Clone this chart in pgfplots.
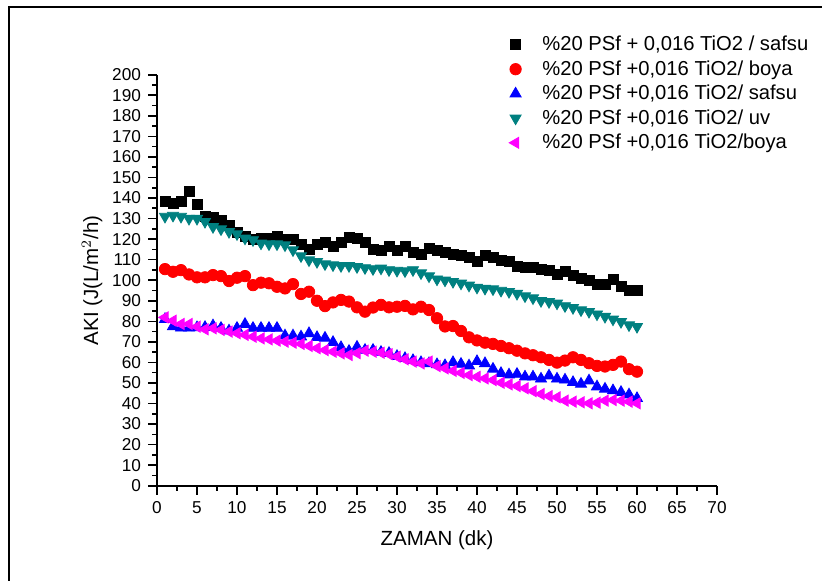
\documentclass[border=0pt]{standalone}
\usepackage{pgfplots}
\pgfplotsset{compat=1.18}
\usepackage{pgfplotstable}
\usepackage{fontspec}
\setmainfont{Liberation Sans}
\definecolor{cTeal}{HTML}{008080}
\definecolor{cRed}{HTML}{FF0000}
\definecolor{cBlue}{HTML}{0000FF}
\definecolor{cMag}{HTML}{FF00FF}

\pgfplotstableread{
x s1 s2 s3 s4 s5
1 138.5 105.4 81.0 131.0 81.9
2 137.4 104.1 77.5 131.5 80.3
3 138.5 104.9 76.8 131.0 78.7
4 143.0 102.8 76.8 130.0 78.7
5 137.0 101.4 77.0 130.0 77.4
6 131.0 101.4 77.1 128.5 76.1
7 130.5 102.5 77.9 126.0 76.6
8 129.0 102.0 76.7 124.9 75.8
9 126.5 99.6 75.4 123.6 75.0
10 123.5 101.2 76.7 122.5 74.2
11 121.5 102.0 78.6 120.4 73.4
12 120.0 97.6 76.7 119.6 72.5
13 120.4 98.8 76.7 118.0 71.7
14 120.4 98.5 76.7 117.6 71.2
15 121.5 96.8 76.7 117.6 70.6
16 119.8 96.0 73.0 117.1 70.1
17 120.0 98.1 73.0 114.7 69.6
18 117.6 93.3 72.5 111.8 69.0
19 115.2 94.4 74.1 109.8 68.0
20 117.6 90.0 72.2 109.0 66.9
21 118.4 87.4 71.9 107.9 66.0
22 116.3 89.2 69.8 107.4 65.2
23 118.4 90.4 67.3 107.0 64.4
24 121.0 89.6 65.5 107.0 63.6
25 120.5 86.8 67.5 106.5 64.5
26 118.3 84.7 66.0 106.0 65.7
27 115.0 86.7 66.0 105.5 65.2
28 114.4 88.0 65.0 105.8 64.7
29 116.6 86.8 64.5 105.0 64.0
30 114.4 87.1 63.0 104.7 62.8
31 116.3 87.5 62.0 104.5 61.5
32 113.4 85.8 61.0 105.0 60.4
33 112.6 87.1 60.0 103.5 59.5
34 115.5 85.5 59.5 102.0 60.4
35 114.7 81.5 59.0 100.5 58.2
36 113.4 77.5 58.5 100.0 57.1
37 112.6 77.7 60.0 99.3 55.9
38 112.3 75.3 59.2 98.5 54.9
39 111.1 72.2 58.4 97.5 53.8
40 109.0 70.7 60.5 96.5 53.0
41 112.3 69.6 59.5 96.0 52.2
42 111.0 69.0 56.8 95.7 51.4
43 109.8 68.0 54.7 95.0 50.1
44 109.3 66.9 54.0 94.4 49.3
45 106.9 65.7 54.3 93.5 48.5
46 106.1 64.4 53.0 92.3 47.4
47 106.0 63.5 53.0 91.3 46.0
48 105.3 62.5 52.0 90.0 44.6
49 104.7 61.2 53.5 89.5 43.6
50 102.9 59.9 52.0 88.8 43.0
51 104.1 60.9 51.5 87.5 41.4
52 102.1 62.5 50.3 86.6 40.9
53 100.9 61.2 49.5 85.5 40.6
54 99.8 59.6 51.1 84.7 40.1
55 98.0 58.3 48.2 83.5 40.4
56 98.0 58.0 47.1 82.3 41.4
57 100.4 58.8 46.3 81.0 41.7
58 96.8 60.4 45.5 79.8 41.4
59 95.2 56.7 44.3 78.2 40.9
60 95.2 55.5 42.5 77.4 40.1
}\datatable

\begin{document}
\begin{tikzpicture}
\path[use as bounding box] (-78.5pt,-47.15pt) rectangle (332.5pt,242.85pt);
\draw[line width=1pt] (-73.75pt,-60pt) -- (-73.75pt,239.35pt) -- (345pt,239.35pt);
\begin{axis}[
  at={(0pt,0pt)}, anchor=south west,
  scale only axis, width=280pt, height=205.5pt,
  xmin=0, xmax=70, ymin=0, ymax=200,
  axis x line=bottom, axis y line=left,
  axis line style={-, line width=1pt},
  xtick={0,5,...,70}, ytick={0,10,...,200},
  minor x tick num=1, minor y tick num=1,
  tick align=outside,
  major tick length=4.5pt, minor tick length=2.5pt,
  every tick/.style={black, line width=0.8pt},
  /pgf/number format/assume math mode=true,
  ticklabel style={font=\fontsize{8.6}{10}\selectfont},
  label style={font=\fontsize{10.25}{12}\selectfont},
  xlabel={ZAMAN (dk)},
  ylabel={AKI (J(L/m$^{2}$/h)},
  xlabel style={at={(axis description cs:0.5,-0.132)}, anchor=center},
  ylabel style={at={(axis description cs:-0.116,0.5)}, anchor=center},
  clip=false,
  legend style={draw=none, fill=none, at={(axis description cs:0.6086,1.115)}, anchor=north west,
    font=\fontsize{10.1}{12}\selectfont, row sep=-0.55pt},
  legend cell align=left,
  legend image code/.code={\path[draw=none,fill=none] (0cm,0cm) -- (0.6cm,0cm); \draw[#1] plot coordinates {(0.2cm,0cm)};},
]
\addplot[only marks, mark=square*, mark size=2.5pt, color=black, mark options={fill=black}] table[x=x,y=s1] {\datatable};
\addlegendentry{\%20 PSf + 0,016 TiO2 / safsu}
\addplot[only marks, mark=*, mark size=2.85pt, color=cRed, mark options={fill=cRed}] table[x=x,y=s2] {\datatable};
\addlegendentry{\%20 PSf +0,016 TiO2/ boya}
\addplot[only marks, mark=triangle*, mark size=3.2pt, color=cBlue, mark options={fill=cBlue}] table[x=x,y=s3] {\datatable};
\addlegendentry{\%20 PSf +0,016 TiO2/ safsu}
\addplot[only marks, mark=triangle*, mark size=3.2pt, color=cTeal, mark options={fill=cTeal, rotate=180}] table[x=x,y=s4] {\datatable};
\addlegendentry{\%20 PSf +0,016 TiO2/ uv}
\addplot[only marks, mark=triangle*, mark size=3.2pt, color=cMag, mark options={fill=cMag, rotate=90}] table[x=x,y=s5] {\datatable};
\addlegendentry{\%20 PSf +0,016 TiO2/boya}
\end{axis}
\end{tikzpicture}
\end{document}
